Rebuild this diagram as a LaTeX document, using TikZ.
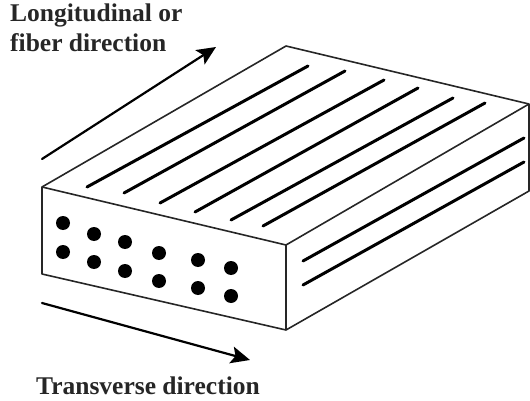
\documentclass[tikz,border=0pt]{standalone}
\usepackage{fontspec}
\setmainfont{Liberation Serif}
\usetikzlibrary{arrows.meta}
\tikzset{
  x=1pt,y=-1pt,
  edge/.style={draw=black!85,line width=1.6pt,line join=round},
  fiber/.style={draw=black,line width=3pt,line cap=round},
  dirarrow/.style={draw=black,line width=2.2pt,line cap=round,-{Stealth[length=19pt,width=17pt,inset=4pt]}},
  dot/.style={circle,fill=black,draw=none,inner sep=0pt,minimum width=14pt},
  lab/.style={font=\bfseries\fontsize{25.5}{25.5}\selectfont,anchor=base west,inner sep=0pt,text=black!85}
}
\begin{document}
\begin{tikzpicture}
\useasboundingbox (0,0) rectangle (530,401);
\coordinate (A) at (42,187);
\coordinate (B) at (42,274);
\coordinate (C) at (286,245);
\coordinate (D) at (286,330);
\coordinate (E) at (286,46);
\coordinate (F) at (529,104);
\coordinate (G) at (529,191);
\draw[edge] (B) -- (A) -- (E) -- (F) -- (G) -- (D) -- cycle;
\draw[edge] (A) -- (C) -- (D);
\draw[edge] (C) -- (F);
\foreach \n/\sx/\sy/\ex/\ey in {1/87/187/308/66,2/124/193/345/71,3/160/203/384/80,4/195/212/418/88,5/231/220/453/98,6/263/226/485/103,7/303/261/524/138,8/303/285/524/162}{
  \coordinate (s\n) at (\sx,\sy);
  \coordinate (e\n) at (\ex,\ey);
  \draw[fiber] (s\n) -- (e\n);
}
\foreach \n/\x/\y in {1/63/223,2/94/234,3/125/242,4/159/253,5/198/260,6/231/268,7/63/252,8/94/262,9/125/271,10/159/281,11/198/288,12/231/296}{
  \node[dot] (d\n) at (\x,\y) {};
}
\coordinate (l1) at (42,159);
\coordinate (l2) at (216,47);
\coordinate (t1) at (42,303);
\coordinate (t2) at (250,360);
\draw[dirarrow] (l1) -- (l2);
\draw[dirarrow] (t1) -- (t2);
\node[lab] (n1) at (10,22) {Longitudinal or};
\node[lab] (n2) at (10,52) {fiber direction};
\node[lab] (n3) at (36,394) {Transverse direction};
\end{tikzpicture}
\end{document}
